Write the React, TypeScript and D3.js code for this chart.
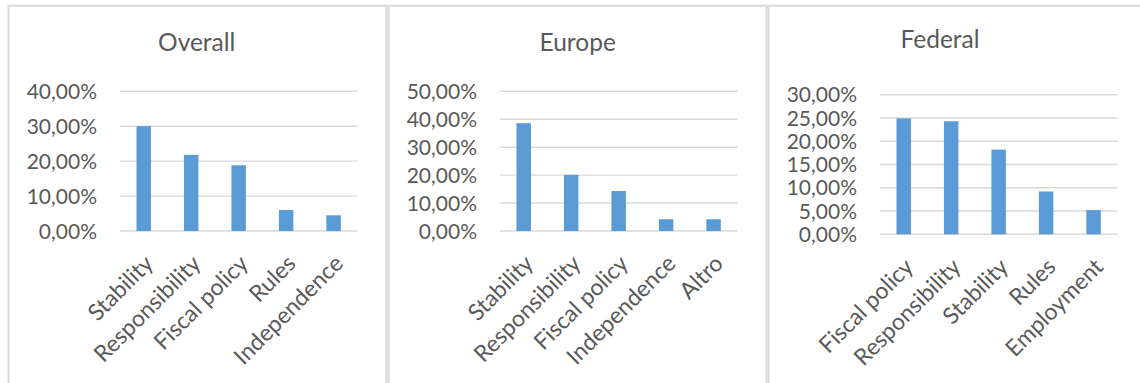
import React from "react";
import * as d3 from "d3";

// Survey shares per chart (fractions of respondents)
const overallCategories = ["Stability", "Responsibility", "Fiscal policy", "Rules", "Independence"];
const overallValues = [0.300, 0.218, 0.188, 0.060, 0.045];
const overallTicks = [0, 0.1, 0.2, 0.3, 0.4];

const europeCategories = ["Stability", "Responsibility", "Fiscal policy", "Independence", "Altro"];
const europeValues = [0.386, 0.201, 0.143, 0.042, 0.042];
const europeTicks = [0, 0.1, 0.2, 0.3, 0.4, 0.5];

const federalCategories = ["Fiscal policy", "Responsibility", "Stability", "Rules", "Employment"];
const federalValues = [0.249, 0.243, 0.182, 0.092, 0.052];
const federalTicks = [0, 0.05, 0.1, 0.15, 0.2, 0.25, 0.3];

const chartTitles = ["Overall", "Europe", "Federal"];

const FONT = "Lato, 'Open Sans', sans-serif";
const TEXT = "#595959";
const GRID = "#D9D9D9";
const BAR = "#5B9BD5";

const fmt = (v: number) => (v * 100).toFixed(2).replace(".", ",") + "%";

type PanelProps = {
  x0: number;
  title: string;
  titleX: number;
  titleY: number;
  categories: string[];
  values: number[];
  ticks: number[];
  yBottom: number;
  yTop: number;
};

function Panel({ x0, title, titleX, titleY, categories, values, ticks, yBottom, yTop }: PanelProps) {
  const plotLeft = x0 + 112;
  const plotRight = x0 + 349.3;
  const xScale = d3
    .scaleBand<string>()
    .domain(categories)
    .range([plotLeft, plotRight])
    .paddingInner(0.695)
    .paddingOuter(0.3475);
  const yScale = d3
    .scaleLinear()
    .domain([0, d3.max(ticks) as number])
    .range([yBottom, yTop]);

  return (
    <g>
      <rect x={x0 + 0.5} y={5.7} width={378} height={420} fill="#fff" stroke={GRID} strokeWidth={2} />
      <text x={x0 + titleX} y={titleY} textAnchor="middle" fontSize={24.5} fill={TEXT} fontFamily={FONT}>
        {title}
      </text>
      {ticks.map((t) => (
        <g key={t}>
          <line x1={plotLeft} x2={plotRight} y1={yScale(t)} y2={yScale(t)} stroke={GRID} strokeWidth={1.4} />
          <text
            x={plotLeft - 23}
            y={yScale(t)}
            dy="0.36em"
            textAnchor="end"
            fontSize={21}
            fill={TEXT}
            fontFamily={FONT}
          >
            {fmt(t)}
          </text>
        </g>
      ))}
      {categories.map((c, i) => (
        <rect
          key={c}
          x={xScale(c)}
          y={yScale(values[i])}
          width={xScale.bandwidth()}
          height={yBottom - yScale(values[i])}
          fill={BAR}
        />
      ))}
      {categories.map((c) => {
        const cx = (xScale(c) as number) + xScale.bandwidth() / 2;
        return (
          <text
            key={c}
            transform={`translate(${cx + 11},${yBottom + 34}) rotate(-45)`}
            textAnchor="end"
            fontSize={23}
            fill={TEXT}
            fontFamily={FONT}
          >
            {c}
          </text>
        );
      })}
    </g>
  );
}

export default function App() {
  return (
    <svg
      width={1140}
      height={383}
      style={{ position: "absolute", left: 0, top: 0, background: "#fff" }}
    >
      <Panel
        x0={8}
        title={chartTitles[0]}
        titleX={188.7}
        titleY={50.7}
        categories={overallCategories}
        values={overallValues}
        ticks={overallTicks}
        yBottom={231}
        yTop={91.3}
      />
      <Panel
        x0={388}
        title={chartTitles[1]}
        titleX={189.7}
        titleY={50.7}
        categories={europeCategories}
        values={europeValues}
        ticks={europeTicks}
        yBottom={231}
        yTop={91.3}
      />
      <Panel
        x0={768}
        title={chartTitles[2]}
        titleX={172}
        titleY={47.7}
        categories={federalCategories}
        values={federalValues}
        ticks={federalTicks}
        yBottom={234.3}
        yTop={94.7}
      />
    </svg>
  );
}
